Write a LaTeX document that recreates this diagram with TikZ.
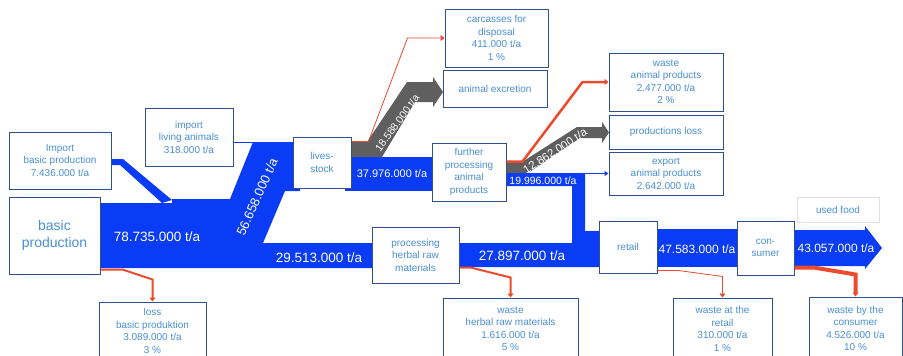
\documentclass[tikz,border=0pt]{standalone}
\usepackage{fontspec}
\setmainfont{Liberation Sans}
\usetikzlibrary{arrows.meta, positioning, shadows}
\definecolor{cflow}{HTML}{0A3CF5}
\definecolor{cgrey}{HTML}{5F5F5F}
\definecolor{cred}{HTML}{EC4A2C}
\definecolor{cframe}{HTML}{2F4F8F}
\definecolor{ctext}{HTML}{4A8FD6}
\tikzset{
  box/.style={draw=cframe, fill=white, line width=1pt, align=center, text=ctext, inner sep=1pt,
    font=\fontsize{10}{12.5}\selectfont, drop shadow={shadow xshift=0.8pt, shadow yshift=-1.2pt, opacity=0.3}},
  softbox/.style={box, draw=black!12},
  flow/.style={fill=cflow},
  greyflow/.style={fill=cgrey},
  flowlabel/.style={text=white, inner sep=0pt, font=\fontsize{#1}{#1}\selectfont},
  lossline/.style={draw=cred, line width=#1, -{Triangle[length=4pt, width=6pt]}},
  lossline/.default=1pt,
  thinflow/.style={draw=cflow, line width=1pt},
}

\begin{document}
\begin{tikzpicture}[x=1pt, y=-1pt]
  \clip (0,0) rectangle (903,356);
  % flows
  \fill[flow] (100,203) -- (172,203) -- (172,199) -- (230,199) -- (253,142) -- (300,142) -- (300,191)
    -- (285,191) -- (263,243) -- (380,243) -- (380,268) -- (100,268) -- cycle;
  \fill[flow] (108,159) -- (123,159) -- (172,200) -- (162,203) -- (120,165) -- (108,165) -- cycle;
  \fill[flow] (345,157) rectangle (440,191);
  \fill[flow] (500,174) -- (585,174) -- (585,231) -- (605,231) -- (605,267) -- (450,267) -- (450,243)
    -- (572,243) -- (572,186) -- (500,186) -- cycle;
  \fill[flow] (650,229) rectangle (745,267);
  \fill[flow] (790,230) -- (865,230) -- (865,226) -- (882,248) -- (865,269) -- (865,266) -- (790,266) -- cycle;
  \fill[greyflow] (345,142) -- (367,142) -- (407,82) -- (433,82) -- (433,77) -- (443,92) -- (433,107)
    -- (433,102) -- (415,102) -- (382,157) -- (345,157) -- cycle;
  \fill[greyflow] (500,162) -- (522,162) -- (577,127) -- (602,127) -- (602,122) -- (609,132.5) -- (602,143)
    -- (602,138) -- (580,138) -- (528,173) -- (500,173) -- cycle;

  % boxes
  \node[box, minimum width=102, minimum height=57] (impbasic) at (60,160.5) {Import\\basic production\\7.436.000 t/a};
  \node[box, minimum width=88, minimum height=58] (impliving) at (189,137) {import\\living animals\\318.000 t/a};
  \node[box, minimum width=91, minimum height=77, font=\fontsize{14}{17}\selectfont] (basicprod) at (54.5,235.5) {basic\\production};
  \node[box, minimum width=58, minimum height=51] (livestock) at (322,162.5) {lives-\\stock};
  \node[box, minimum width=103, minimum height=58] (carcass) at (496.5,38) {carcasses for\\disposal\\411.000 t/a\\1 \%};
  \node[box, minimum width=104, minimum height=37] (excretion) at (495,88.5) {animal excretion};
  \node[box, minimum width=74, minimum height=58] (furtherproc) at (469,172) {further\\processing\\animal\\products};
  \node[box, minimum width=114, minimum height=58] (wasteanimal) at (666,82) {waste\\animal products\\2.477.000 t/a\\2 \%};
  \node[box, minimum width=114, minimum height=34] (prodloss) at (666,132) {productions loss};
  \node[box, minimum width=114, minimum height=43] (export) at (666,173.5) {export\\animal products\\2.642.000 t/a};
  \node[box, minimum width=87, minimum height=56] (herbal) at (415.5,255) {processing\\herbal raw\\materials};
  \node[box, minimum width=58, minimum height=52] (retail) at (628,247) {retail};
  \node[box, minimum width=57, minimum height=54] (consumer) at (765.5,248) {con-\\sumer};
  \node[softbox, minimum width=82, minimum height=25] (usedfood) at (838,209.5) {used food};
  \node[box, minimum width=107, minimum height=58] (loss) at (152.5,331) {loss\\basic produktion\\3.089.000 t/a\\3 \%};
  \node[box, minimum width=135, minimum height=62] (wasteherbal) at (510.5,329) {waste\\herbal raw materials\\1.616.000 t/a\\5 \%};
  \node[box, minimum width=99, minimum height=62] (wasteretail) at (722.5,329) {waste at the\\retail\\310.000 t/a\\1 \%};
  \node[box, minimum width=93, minimum height=63] (wasteconsumer) at (855.5,328.5) {waste by the\\consumer\\4.526.000 t/a\\10 \%};

  % flow values
  \foreach \n/\x/\y/\r/\s/\v in {vbasic/157/237/0/13.5/78.735.000, vlive/257/197/66/13/56.658.000,
      vherbin/319/258/0/13.5/29.513.000, vherbout/522/256/0/13.5/27.897.000,
      vanim/392/174/0/11/37.976.000, vexport/543/181/0/10.5/19.996.000,
      vretail/697/249/0/12/47.583.000, vfood/836/248/0/12/43.057.000,
      vexcr/397/123/54/10.5/18.588.000, vprodloss/555/151/33/11.5/12.862.000}
    \node[flowlabel=\s, rotate=\r] (\n) at (\x,\y) {\v~t/a};

  % connectors
  \draw[thinflow] ([yshift=-5pt]impliving.east) -- ++(20,0);
  \draw[thinflow, -{Triangle[length=4pt, width=5pt]}] (furtherproc.east |- export.west) -- (export.west);
  \draw[lossline=0.8pt] ([yshift=-5pt]livestock.north east) -- ++(17,0) -- ([xshift=-37pt]carcass.west) -- (carcass.west);
  \draw[lossline=2.5pt] ([yshift=-19pt]furtherproc.north east) -- ++(16,0) -- ([xshift=-26pt]wasteanimal.west) -- (wasteanimal.west);
  \draw[lossline=2pt] ([yshift=5pt]basicprod.south east) -- ++(22,0) -- ([yshift=22pt]loss.north) -- (loss.north);
  \draw[lossline=2pt] ([yshift=16pt]herbal.south east) -- ++(11,0) -- ([yshift=20pt]wasteherbal.north) -- (wasteherbal.north);
  \draw[lossline=0.8pt] ([yshift=3pt]retail.south east) -- ++(21,0) -- ([yshift=21pt]wasteretail.north) -- (wasteretail.north);
  \draw[lossline=4pt] ([yshift=8pt]consumer.south east) -- ++(19,0) -- ([yshift=22pt]wasteconsumer.north) -- (wasteconsumer.north);
\end{tikzpicture}
\end{document}
